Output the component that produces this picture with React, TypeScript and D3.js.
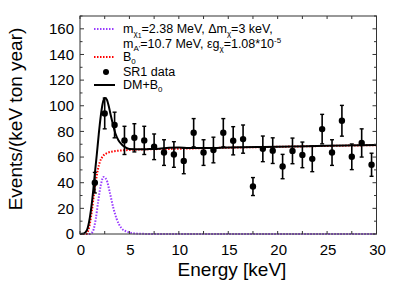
import React from "react";
import * as d3 from "d3";

// SR1 data (bin centres in keV), rate and error
const dataE = [1.5, 2.5, 3.5, 4.5, 5.5, 6.5, 7.5, 8.5, 9.5, 10.5, 11.5, 12.5, 13.5, 14.5, 15.5, 16.5, 17.5, 18.5, 19.5, 20.5, 21.5, 22.5, 23.5, 24.5, 25.5, 26.5, 27.5, 28.5, 29.5];
const dataV = [40, 94, 85, 73, 75, 73, 68, 63.5, 62, 57, 79, 63.5, 65.5, 79, 72.7, 74, 37, 66.4, 65, 52.6, 64.8, 61.7, 58.6, 81.8, 63.5, 88.3, 60.2, 71, 54];
const dataErr = [8, 12, 10, 11, 11, 11, 10, 10, 10, 10, 11, 10, 10, 11, 11, 11, 7, 10, 10, 9.5, 10, 10, 10, 11.5, 10, 12, 10, 11, 9];

// DM signal (purple dotted)
const dmE = [0, 1.0, 1.3, 1.6, 1.85, 2.1, 2.4, 2.7, 3.0, 3.35, 3.7, 4.2, 4.7, 5.2, 6, 8, 30];
const dmV = [0, 0, 2, 12, 26, 38, 44.5, 42, 33, 21, 12, 4.5, 2, 0.8, 0.2, 0, 0];

// B0 background (red dotted)
const bE = [0, 0.6, 0.8, 1.0, 1.2, 1.4, 1.6, 1.8, 2.0, 2.3, 2.7, 3.2, 4, 5, 10, 20, 30];
const bV = [0, 0, 2, 8, 18, 30, 41, 50, 56, 60.5, 63, 64.2, 65, 65.5, 66.5, 68, 69.3];

// DM+B0 (black solid)
const tE = [0, 0.4, 0.7, 1.0, 1.2, 1.35, 1.5, 1.7, 1.9, 2.1, 2.3, 2.5, 2.7, 2.9, 3.1, 3.35, 3.6, 3.9, 4.2, 4.6, 5, 6, 7, 8, 9, 10, 11, 13, 15, 20, 25, 30];
const tV = [0, 0.5, 3, 13, 24, 35, 47, 62, 78, 92, 102, 106, 105, 100, 93, 85, 78, 73, 70, 67.5, 66.3, 66, 66.2, 66.5, 67.3, 67.5, 67, 67, 67.5, 68, 68.8, 69.5];

const xTicks = [0, 5, 10, 15, 20, 25, 30];
const yTicks = [0, 20, 40, 60, 80, 100, 120, 140, 160];

const W = 396;
const H = 305;
const L = 80, R = 376.5, T = 16, B = 234;
const font = "'Liberation Sans', Arial, sans-serif";
const purple = "#9a3cff";

export default function App() {
  const x = d3.scaleLinear().domain([0, 30]).range([L, R]);
  const y = d3.scaleLinear().domain([0, 170]).range([B, T]);

  const line = d3
    .line<[number, number]>()
    .x((d) => x(d[0]))
    .y((d) => y(d[1]))
    .curve(d3.curveMonotoneX);

  const dmPath = line(dmE.map((e, i) => [e, dmV[i]]));
  const bPath = line(bE.map((e, i) => [e, bV[i]]));
  const tPath = line(tE.map((e, i) => [e, tV[i]]));

  const minorX = d3.range(0, 30.01, 2.5);
  const minorY = d3.range(0, 170.01, 10);

  return (
    <svg width={W} height={H} style={{ position: "absolute", left: 0, top: 0, background: "#fff" }} fontFamily={font}>
      {/* curves */}
      <path d={dmPath!} fill="none" stroke={purple} strokeWidth={2} strokeDasharray="1.5,1.5" />
      <path d={bPath!} fill="none" stroke="#ff0000" strokeWidth={2} strokeDasharray="1.5,1.5" />
      <path d={tPath!} fill="none" stroke="#000" strokeWidth={2} />

      {/* data */}
      {dataE.map((e, i) => {
        const cx = x(e);
        const y0 = y(dataV[i] - dataErr[i]);
        const y1 = y(dataV[i] + dataErr[i]);
        return (
          <g key={i}>
            <line x1={cx} x2={cx} y1={y0} y2={y1} stroke="#000" strokeWidth={1.6} />
            <line x1={cx - 2} x2={cx + 2} y1={y0} y2={y0} stroke="#000" strokeWidth={1.4} />
            <line x1={cx - 2} x2={cx + 2} y1={y1} y2={y1} stroke="#000" strokeWidth={1.4} />
            <circle cx={cx} cy={y(dataV[i])} r={3.2} fill="#000" />
          </g>
        );
      })}

      {/* frame */}
      <rect x={L} y={T} width={R - L} height={B - T} fill="none" stroke="#333" strokeWidth={1} />

      {/* x ticks */}
      {minorX.map((t) => (
        <g key={"x" + t} stroke="#333">
          <line x1={x(t)} x2={x(t)} y1={B} y2={B - 3} />
          <line x1={x(t)} x2={x(t)} y1={T} y2={T + 3} />
        </g>
      ))}
      {/* y ticks */}
      {minorY.map((t) => {
        const len = t % 20 === 0 ? 4 : 2.5;
        return (
          <g key={"y" + t} stroke="#333">
            <line x1={L} x2={L + len} y1={y(t)} y2={y(t)} />
            <line x1={R} x2={R - len} y1={y(t)} y2={y(t)} />
          </g>
        );
      })}
      {xTicks.map((t) => (
        <text key={"xl" + t} x={x(t) + 1} y={255} fontSize={15} textAnchor="middle" fill="#000">
          {t}
        </text>
      ))}
      {yTicks.map((t) => (
        <text key={"yl" + t} x={74} y={y(t) + 5.3} fontSize={15} textAnchor="end" fill="#000">
          {t}
        </text>
      ))}

      {/* axis titles */}
      <text x={232} y={276} fontSize={19} textAnchor="middle" fill="#000">
        Energy [keV]
      </text>
      <text transform={`translate(22,119) rotate(-90)`} fontSize={19} textAnchor="middle" fill="#000">
        Events/(keV ton year)
      </text>

      {/* legend */}
      <g fontSize={12.5} fill="#000">
        <line x1={94} x2={115} y1={29} y2={29} stroke={purple} strokeWidth={2} strokeDasharray="1.5,1.5" />
        <text x={123} y={33}>
          m<tspan fontSize={8} dy={3}>χ</tspan>
          <tspan fontSize={7} dy={1.5}>1</tspan>
          <tspan dy={-4.5}>=2.38 MeV, Δm</tspan>
          <tspan fontSize={8} dy={3}>χ</tspan>
          <tspan dy={-3}>=3 keV,</tspan>
        </text>
        <text x={123} y={48}>
          m<tspan fontSize={8} dy={3}>A'</tspan>
          <tspan dy={-3}>=10.7 MeV, εg</tspan>
          <tspan fontSize={8} dy={3}>χ</tspan>
          <tspan dy={-3}>=1.08*10</tspan>
          <tspan fontSize={8} dy={-5}>-5</tspan>
        </text>
        <line x1={94} x2={115} y1={57} y2={57} stroke="#ff0000" strokeWidth={2} strokeDasharray="1.5,1.5" />
        <text x={123} y={61}>
          B<tspan fontSize={8} dy={3}>0</tspan>
        </text>
        <circle cx={106} cy={72} r={3} fill="#000" />
        <text x={123} y={76}>SR1 data</text>
        <line x1={94} x2={115} y1={85} y2={85} stroke="#000" strokeWidth={2} />
        <text x={123} y={89}>
          DM+B<tspan fontSize={8} dy={3}>0</tspan>
        </text>
      </g>
    </svg>
  );
}
